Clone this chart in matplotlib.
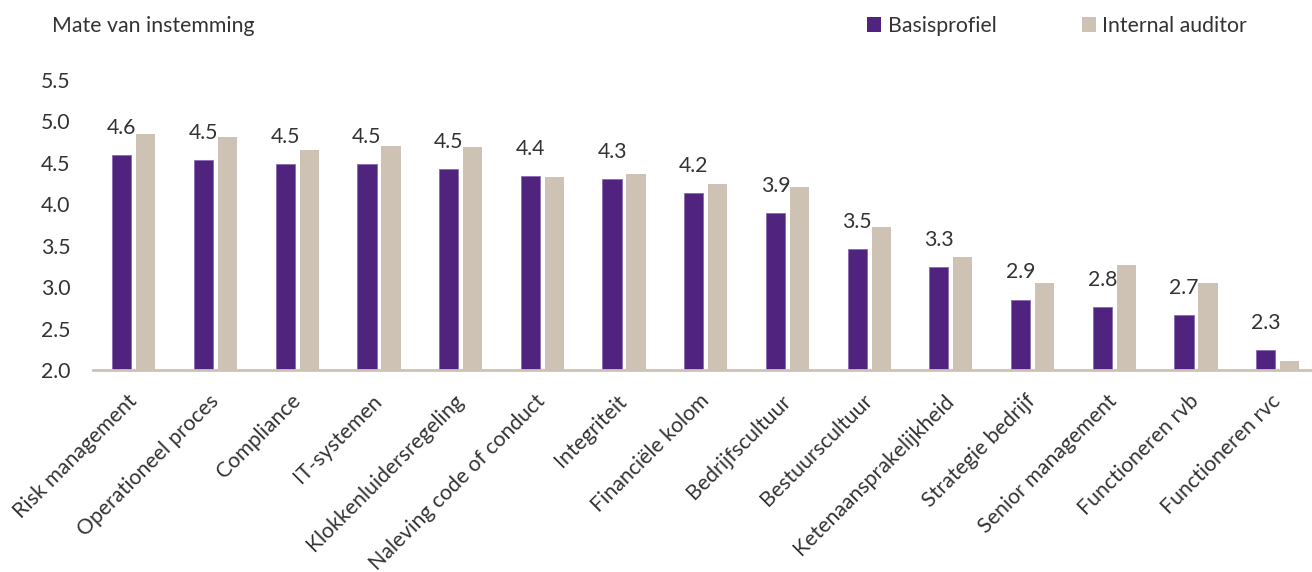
import matplotlib

matplotlib.use("Agg")

import matplotlib.pyplot as plt
import numpy as np
from matplotlib.patches import Patch


# ==================================================
# DATA
# ==================================================

categories = [
    "Risk management",
    "Operationeel proces",
    "Compliance",
    "IT-systemen",
    "Klokkenluidersregeling",
    "Naleving code of conduct",
    "Integriteit",
    "Financiële kolom",
    "Bedrijfscultuur",
    "Bestuurscultuur",
    "Ketenaansprakelijkheid",
    "Strategie bedrijf",
    "Senior management",
    "Functioneren rvb",
    "Functioneren rvc",
]

basisprofiel = [4.59, 4.53, 4.49, 4.49, 4.43, 4.34, 4.31, 4.14, 3.89,
                3.46, 3.24, 2.85, 2.76, 2.66, 2.24]

internal_auditor = [4.85, 4.81, 4.66, 4.70, 4.69, 4.33, 4.37, 4.24, 4.21,
                    3.73, 3.36, 3.05, 3.27, 3.05, 2.11]

value_labels = ["4.6", "4.5", "4.5", "4.5", "4.5", "4.4", "4.3", "4.2",
                "3.9", "3.5", "3.3", "2.9", "2.8", "2.7", "2.3"]

y_ticks = [2.0, 2.5, 3.0, 3.5, 4.0, 4.5, 5.0, 5.5]


# ==================================================
# STYLE
# ==================================================

PURPLE = "#50237f"
BEIGE = "#cec2b4"
TEXT = "#333333"
FS = 15.3

plt.rcParams["font.family"] = ["Lato", "DejaVu Sans"]


# ==================================================
# CHART
# ==================================================

fig = plt.figure(figsize=(13.12, 5.72), dpi=100)

ax = fig.add_axes([93 / 1312, 1 - 370 / 572, 1 - 93 / 1312, 290 / 572])

x = np.arange(len(categories))

bar_w = 0.235
offset = 0.147

ax.bar(
    x - offset,
    np.array(basisprofiel) - 2.0,
    bottom=2.0,
    width=bar_w,
    color=PURPLE,
    edgecolor="#8a6cb3",
    linewidth=0.6,
)

ax.bar(
    x + offset,
    np.array(internal_auditor) - 2.0,
    bottom=2.0,
    width=bar_w,
    color=BEIGE,
    linewidth=0,
)

for xi, val, lab in zip(x, basisprofiel, value_labels):
    ax.annotate(
        lab,
        (xi - offset, val),
        xytext=(0, 19.5),
        textcoords="offset points",
        ha="center",
        va="center",
        fontsize=FS,
        color=TEXT,
    )

ax.set_xlim(-0.5, 14.42)
ax.set_ylim(2.0, 5.5)

ax.set_yticks(y_ticks)
ax.set_yticklabels([f"{v:.1f}" for v in y_ticks])

ax.set_xticks(x)
ax.set_xticklabels(
    categories,
    rotation=45,
    ha="right",
    va="center",
    rotation_mode="anchor",
)

ax.tick_params(axis="y", length=0, pad=16, labelsize=FS, colors=TEXT)
ax.tick_params(axis="x", length=0, pad=20, labelsize=FS, colors=TEXT)

for side in ["top", "right", "left"]:
    ax.spines[side].set_visible(False)

ax.spines["bottom"].set_color(BEIGE)
ax.spines["bottom"].set_linewidth(2)

ax.set_facecolor("none")

fig.text(
    52 / 1312,
    1 - 26 / 572,
    "Mate van instemming",
    ha="left",
    va="center",
    fontsize=FS,
    color=TEXT,
)

handles = [
    Patch(facecolor=PURPLE, label="Basisprofiel"),
    Patch(facecolor=BEIGE, label="Internal auditor"),
]

fig.legend(
    handles=handles,
    loc="center left",
    bbox_to_anchor=(867 / 1312, 1 - 26 / 572),
    ncol=2,
    frameon=False,
    fontsize=FS,
    handlelength=0.68,
    handleheight=0.68,
    handletextpad=0.3,
    columnspacing=4.0,
    borderpad=0,
    borderaxespad=0,
    labelcolor=TEXT,
)

fig.savefig("out.png", dpi=100)

plt.close(fig)
